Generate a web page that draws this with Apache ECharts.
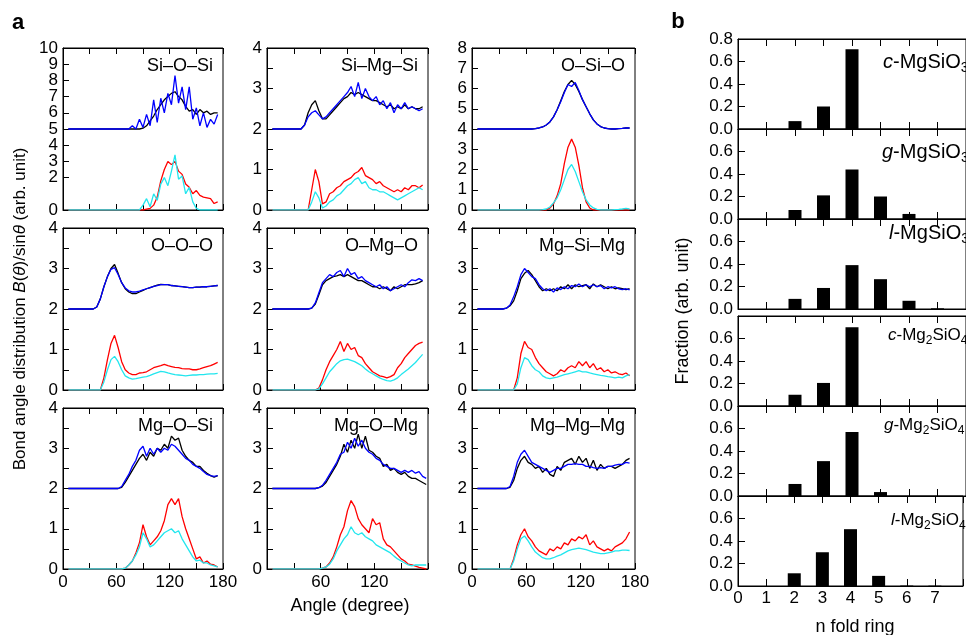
<!DOCTYPE html>
<html><head><meta charset="utf-8">
<script src="https://cdn.jsdelivr.net/npm/echarts@6/dist/echarts.min.js"></script>
<style>html,body{margin:0;padding:0;background:#fff}#c{width:966px;height:635px}</style>
</head><body><div id="c"></div>
<script>
// ---------- DATA: panel a (bond angle distributions) ----------
const angles = [6,10,14,18,22,26,30,34,38,42, 46,50,54,58,62,66,70,74,78,82, 86,90,94,98,102,106,110,114,118,122, 126,130,134,138,142,146,150,154,158,162, 166,170,174,178];
const panelTitles = ['Si–O–Si','Si–Mg–Si','O–Si–O','O–O–O','O–Mg–O','Mg–Si–Mg','Mg–O–Si','Mg–O–Mg','Mg–Mg–Mg'];
const panelYMax = [10,4,8,4,4,4,4,4,4];

const SiOSi_K = [5,5,5,5,5,5,5,5,5,5, 5,5,5,5,5,5,5,5,5,5, 5,5.05,5.2,5.5,5.8,6.2,6.5,6.8,7.0,7.2, 7.3,7.0,6.8,6.4,6.1,6.2,5.9,6.2,6.0,6.1, 5.9,6.0,6.0];
const SiOSi_B = [5,5,5,5,5,5,5,5,5,5, 5,5,5,5,5,5,5,5,5.2,5.0, 5.6,5.1,5.9,5.2,6.8,5.4,6.9,6.0,7.2,6.5, 8.3,6.6,7.6,6.2,7.6,5.6,6.3,5.2,6.0,5.1, 5.6,5.3,5.9];
const SiOSi_R = [0,0,0,0,0,0,0,0,0,0, 0,0,0,0,0,0,0,0,0,0, 0,0,0.05,0.1,0.3,0.8,1.8,2.5,3.0,2.8, 3.0,2.4,2.2,1.6,1.4,1.0,1.2,0.9,0.8,0.75, 0.7,0.4,0.5];
const SiOSi_C = [0,0,0,0,0,0,0,0,0,0, 0,0,0,0,0,0,0,0,0,0, 0,0.3,0.7,0.2,1.0,0.6,1.6,2.0,1.5,2.4, 3.4,1.9,2.1,1.0,1.4,0.5,0.1,0,0,0, 0,0,0];

const SiMgSi_K = [2,2,2,2,2,2,2,2,2,2.1, 2.4,2.6,2.7,2.45,2.25,2.25,2.35,2.45,2.55,2.65, 2.75,2.8,2.9,2.85,2.9,2.85,2.8,2.75,2.7,2.7, 2.65,2.6,2.55,2.6,2.5,2.55,2.5,2.6,2.5,2.55, 2.5,2.5,2.55];
const SiMgSi_B = [2,2,2,2,2,2,2,2,2,2.1, 2.3,2.4,2.45,2.35,2.25,2.3,2.4,2.5,2.6,2.7, 2.8,2.9,3.05,2.8,3.15,2.75,3.0,2.8,2.7,2.8, 2.6,2.7,2.5,2.65,2.4,2.6,2.5,2.65,2.5,2.55, 2.5,2.45,2.5];
const SiMgSi_R = [0,0,0,0,0,0,0,0,0,0, 0,0.5,1.0,0.7,0.15,0.2,0.4,0.45,0.55,0.6, 0.7,0.75,0.8,0.9,0.95,1.05,0.85,0.8,0.75,0.65, 0.7,0.6,0.55,0.5,0.45,0.5,0.45,0.55,0.5,0.6, 0.6,0.55,0.62];
const SiMgSi_C = [0,0,0,0,0,0,0,0,0,0, 0,0.2,0.45,0.3,0.05,0.1,0.2,0.25,0.35,0.4, 0.5,0.6,0.65,0.75,0.8,0.65,0.7,0.55,0.5,0.5, 0.45,0.45,0.4,0.35,0.3,0.25,0.3,0.35,0.4,0.45, 0.5,0.55,0.5];

const OSiO_K = [4,4,4,4,4,4,4,4,4,4, 4,4,4,4,4,4.0,4.02,4.05,4.1,4.2, 4.35,4.6,4.95,5.4,5.85,6.2,6.4,6.2,5.85,5.45, 5.1,4.75,4.45,4.25,4.12,4.05,4.02,4.0,4.0,4.02, 4.03,4.05,4.05];
const OSiO_B = [4,4,4,4,4,4,4,4,4,4, 4,4,4,4,4,4.0,4.02,4.05,4.1,4.2, 4.35,4.6,4.95,5.35,5.8,6.2,6.1,6.3,5.9,5.45, 5.1,4.75,4.45,4.25,4.12,4.05,4.02,4.0,4.0,4.02, 4.03,4.05,4.05];
const OSiO_R = [0,0,0,0,0,0,0,0,0,0, 0,0,0,0,0,0,0,0,0,0, 0.1,0.3,0.7,1.3,2.3,3.1,3.5,3.1,2.2,1.1, 0.4,0.1,0,0,0,0,0,0,0,0, 0,0,0];
const OSiO_C = [0,0,0,0,0,0,0,0,0,0, 0,0,0,0,0,0,0,0,0.02,0.05, 0.15,0.35,0.6,1.0,1.5,2.0,2.25,1.9,1.4,0.9, 0.5,0.25,0.1,0.03,0,0,0,0,0.02,0.03, 0.05,0.08,0.05];

const OOO_K = [2,2,2,2,2,2,2,2,2.05,2.25, 2.55,2.8,3.0,3.1,2.88,2.65,2.5,2.42,2.38,2.38, 2.42,2.46,2.5,2.53,2.56,2.59,2.61,2.6,2.6,2.58, 2.57,2.56,2.55,2.54,2.53,2.53,2.54,2.54,2.55,2.55, 2.56,2.57,2.58];
const OOO_B = [2,2,2,2,2,2,2,2,2.05,2.25, 2.55,2.8,2.98,3.02,2.85,2.65,2.52,2.45,2.42,2.42, 2.44,2.47,2.5,2.53,2.56,2.58,2.6,2.6,2.6,2.58, 2.57,2.56,2.55,2.54,2.53,2.53,2.54,2.54,2.55,2.55, 2.56,2.57,2.58];
const OOO_R = [0,0,0,0,0,0,0,0,0,0, 0.3,0.75,1.15,1.35,1.05,0.7,0.5,0.42,0.38,0.38, 0.42,0.43,0.45,0.5,0.55,0.58,0.6,0.63,0.6,0.58, 0.56,0.55,0.53,0.52,0.52,0.5,0.5,0.52,0.55,0.58, 0.6,0.64,0.68];
const OOO_C = [0,0,0,0,0,0,0,0,0,0, 0.2,0.5,0.75,0.83,0.7,0.5,0.35,0.3,0.27,0.28, 0.3,0.32,0.33,0.36,0.4,0.43,0.46,0.45,0.42,0.4, 0.38,0.37,0.36,0.35,0.36,0.37,0.37,0.38,0.38,0.39, 0.4,0.4,0.41];

const OMgO_K = [2,2,2,2,2,2,2,2,2,2, 2.0,2.02,2.12,2.35,2.6,2.7,2.75,2.8,2.82,2.85, 2.8,2.85,2.8,2.75,2.7,2.7,2.65,2.6,2.55,2.55, 2.5,2.55,2.5,2.45,2.55,2.5,2.55,2.6,2.6,2.6, 2.62,2.65,2.7];
const OMgO_B = [2,2,2,2,2,2,2,2,2,2, 2.0,2.02,2.15,2.4,2.65,2.75,2.85,2.8,2.9,2.95, 2.8,3.0,2.85,2.9,2.75,2.8,2.7,2.65,2.6,2.55, 2.6,2.5,2.55,2.45,2.5,2.55,2.6,2.55,2.65,2.72, 2.7,2.75,2.7];
const OMgO_R = [0,0,0,0,0,0,0,0,0,0, 0,0,0,0.05,0.25,0.5,0.7,0.85,1.0,1.2, 0.95,1.15,1.0,1.05,0.85,0.8,0.65,0.55,0.45,0.4, 0.35,0.33,0.3,0.33,0.38,0.55,0.65,0.8,0.9,1.0, 1.1,1.15,1.18];
const OMgO_C = [0,0,0,0,0,0,0,0,0,0, 0,0,0,0.03,0.15,0.3,0.45,0.55,0.65,0.72, 0.75,0.76,0.73,0.7,0.65,0.6,0.52,0.45,0.4,0.35, 0.3,0.26,0.23,0.22,0.25,0.3,0.38,0.45,0.52,0.6, 0.68,0.78,0.88];

const MgSiMg_K = [2,2,2,2,2,2,2,2,2.02,2.08, 2.2,2.45,2.75,2.88,2.95,2.85,2.7,2.55,2.45,2.5, 2.45,2.5,2.45,2.55,2.5,2.6,2.5,2.6,2.55,2.58, 2.6,2.5,2.62,2.55,2.6,2.55,2.5,2.55,2.5,2.52, 2.5,2.48,2.5];
const MgSiMg_B = [2,2,2,2,2,2,2,2,2.02,2.1, 2.3,2.55,2.85,3.0,2.9,2.8,2.75,2.6,2.5,2.45, 2.5,2.42,2.52,2.48,2.55,2.5,2.58,2.55,2.62,2.55, 2.6,2.55,2.6,2.55,2.58,2.5,2.55,2.52,2.55,2.5, 2.48,2.5,2.47];
const MgSiMg_R = [0,0,0,0,0,0,0,0,0,0, 0,0.3,0.9,1.2,1.05,1.0,0.8,0.65,0.55,0.45, 0.4,0.35,0.4,0.5,0.45,0.55,0.6,0.55,0.7,0.6, 0.7,0.55,0.65,0.5,0.55,0.45,0.5,0.42,0.45,0.4, 0.38,0.42,0.35];
const MgSiMg_C = [0,0,0,0,0,0,0,0,0,0, 0,0.15,0.55,0.8,0.75,0.6,0.5,0.45,0.35,0.3, 0.28,0.3,0.32,0.35,0.38,0.4,0.42,0.45,0.48,0.45, 0.45,0.42,0.4,0.38,0.36,0.35,0.33,0.32,0.3,0.32, 0.3,0.35,0.38];

const MgOSi_K = [2,2,2,2,2,2,2,2,2,2, 2,2,2,2.0,2.0,2.03,2.15,2.3,2.45,2.6, 2.75,2.85,2.7,2.9,2.8,3.0,2.95,3.1,3.0,3.3, 3.2,3.25,2.95,2.8,2.7,2.65,2.55,2.55,2.45,2.38, 2.32,2.28,2.32];
const MgOSi_B = [2,2,2,2,2,2,2,2,2,2, 2,2,2,2,2,2.05,2.2,2.35,2.55,2.7, 2.95,3.05,2.8,3.0,2.85,3.0,2.9,3.0,2.95,3.1, 3.05,2.95,2.85,2.75,2.7,2.6,2.55,2.5,2.42,2.35, 2.32,2.3,2.32];
const MgOSi_R = [0,0,0,0,0,0,0,0,0,0, 0,0,0,0,0,0,0.02,0.1,0.2,0.4, 0.65,1.1,0.8,0.6,0.7,0.8,0.95,1.2,1.6,1.75, 1.6,1.75,1.3,1.0,0.75,0.5,0.25,0.3,0.15,0.2, 0.12,0.1,0.05];
const MgOSi_C = [0,0,0,0,0,0,0,0,0,0, 0,0,0,0,0,0,0.02,0.1,0.2,0.35, 0.55,0.9,0.75,0.55,0.6,0.7,0.8,0.9,0.95,1.0, 0.9,0.95,0.75,0.6,0.45,0.3,0.2,0.22,0.15,0.15, 0.1,0.08,0.05];

const MgOMg_K = [2,2,2,2,2,2,2,2,2,2, 2,2,2.0,2.02,2.06,2.15,2.3,2.45,2.6,2.8, 3.1,2.9,3.2,3.0,3.35,3.0,3.3,2.95,2.9,2.8, 2.75,2.55,2.6,2.45,2.5,2.4,2.35,2.4,2.3,2.25, 2.25,2.2,2.15,2.1];
const MgOMg_B = [2,2,2,2,2,2,2,2,2,2, 2,2,2.0,2.02,2.08,2.2,2.35,2.5,2.65,2.85, 2.9,3.15,3.0,3.25,3.05,3.2,3.0,2.9,2.85,2.75, 2.7,2.6,2.55,2.5,2.5,2.45,2.4,2.45,2.4,2.45, 2.38,2.42,2.3,2.25];
const MgOMg_R = [0,0,0,0,0,0,0,0,0,0, 0,0,0,0,0.02,0.05,0.15,0.3,0.55,0.85, 1.05,1.45,1.7,1.55,1.25,1.1,1.0,0.9,1.25,1.1, 1.15,0.75,0.6,0.55,0.45,0.35,0.25,0.2,0.12,0.1, 0.07,0.04,0.02,0.0];
const MgOMg_C = [0,0,0,0,0,0,0,0,0,0, 0,0,0,0,0.02,0.05,0.12,0.25,0.45,0.6, 0.75,0.85,1.05,0.9,0.85,0.9,0.8,0.75,0.7,0.6, 0.55,0.5,0.45,0.4,0.32,0.25,0.2,0.15,0.1,0.08, 0.1,0.1,0.1,0.1];

const MgMgMg_K = [2,2,2,2,2,2,2,2,2.0,2.03, 2.2,2.5,2.7,2.8,2.65,2.6,2.5,2.55,2.4,2.5, 2.35,2.3,2.55,2.45,2.65,2.7,2.75,2.6,2.8,2.65, 2.75,2.5,2.7,2.45,2.6,2.5,2.55,2.55,2.5,2.55, 2.6,2.7,2.75];
const MgMgMg_B = [2,2,2,2,2,2,2,2,2.0,2.05, 2.3,2.65,2.85,2.95,2.8,2.65,2.6,2.55,2.5,2.45, 2.4,2.45,2.5,2.5,2.55,2.6,2.6,2.62,2.6,2.6, 2.55,2.55,2.52,2.5,2.52,2.5,2.55,2.55,2.58,2.6, 2.6,2.65,2.63];
const MgMgMg_R = [0,0,0,0,0,0,0,0,0,0, 0.25,0.6,0.85,1.0,0.8,0.7,0.55,0.45,0.4,0.35, 0.5,0.45,0.55,0.5,0.65,0.6,0.75,0.7,0.8,0.75, 0.85,0.6,0.7,0.55,0.5,0.45,0.5,0.45,0.55,0.6, 0.65,0.75,0.92];
const MgMgMg_C = [0,0,0,0,0,0,0,0,0,0, 0.2,0.5,0.75,0.82,0.7,0.55,0.42,0.35,0.28,0.25, 0.25,0.28,0.32,0.35,0.4,0.45,0.48,0.5,0.52,0.5, 0.48,0.45,0.42,0.4,0.38,0.38,0.4,0.42,0.45,0.45, 0.47,0.47,0.46];

const xTickLabels = [0,60,120,180];

// ---------- DATA: panel b (ring statistics) ----------
const ringN = [0,1,2,3,4,5,6,7];
const c_MgSiO3  = [0,0,0.07,0.20,0.71,0,0,0];
const g_MgSiO3  = [0,0,0.08,0.21,0.44,0.20,0.045,0];
const l_MgSiO3  = [0,0,0.09,0.187,0.39,0.265,0.073,0.006];
const c_Mg2SiO4 = [0,0,0.10,0.205,0.70,0,0,0];
const g_Mg2SiO4 = [0,0,0.107,0.31,0.57,0.035,0,0];
const l_Mg2SiO4 = [0,0,0.113,0.30,0.505,0.09,0.004,0.003];

// ---------- CHART ----------
const FONT = '"Liberation Sans", Arial, Helvetica, sans-serif';
const chart = echarts.init(document.getElementById('c'), null, {renderer:'canvas'});
const mctx = document.createElement('canvas').getContext('2d');

const panels = [
  [SiOSi_K,SiOSi_B,SiOSi_R,SiOSi_C],[SiMgSi_K,SiMgSi_B,SiMgSi_R,SiMgSi_C],[OSiO_K,OSiO_B,OSiO_R,OSiO_C],
  [OOO_K,OOO_B,OOO_R,OOO_C],[OMgO_K,OMgO_B,OMgO_R,OMgO_C],[MgSiMg_K,MgSiMg_B,MgSiMg_R,MgSiMg_C],
  [MgOSi_K,MgOSi_B,MgOSi_R,MgOSi_C],[MgOMg_K,MgOMg_B,MgOMg_R,MgOMg_C],[MgMgMg_K,MgMgMg_B,MgMgMg_R,MgMgMg_C]
];
const lineColors = ['#000000','#0000ff','#ff0000','#22e6ee'];
const colLeft=[63,267,472], colW=[160,161,163], rowTop=[48,228,408], rowH=[162,162,161];
const grid=[], xAxis=[], yAxis=[], series=[], elements=[], extraY=[];
const axLine = {show:true, onZero:false, lineStyle:{color:'#000', width:1}};
const tickStyle = {color:'#000', width:1};

function pieces(list, size, x0, y0, opts) {
  opts = opts || {};
  let x = 0; const out = [];
  list.forEach(p => {
    const fs = p.sub ? Math.round(size*0.68) : size;
    const font = (p.it?'italic ':'') + (p.bold?'bold ':'') + fs + 'px ' + FONT;
    mctx.font = font;
    const w = mctx.measureText(p.t).width;
    out.push({type:'text', x:x, y:p.sub ? size*0.32 : 0, silent:true,
      style:{text:p.t, font:font, fill:'#000', textAlign:'left', textVerticalAlign:'middle', align:'left', verticalAlign:'middle'}});
    x += w;
  });
  const shift = opts.center ? -x/2 : (opts.right ? -x : 0);
  out.forEach(o => o.x += shift);
  return {type:'group', x:x0, y:y0, rotation: opts.rot || 0, silent:true, children: out};
}
function plainText(t, x, y, size, align, bold) {
  const font = (bold?'bold ':'') + size + 'px ' + FONT;
  return {type:'text', x:x, y:y, silent:true, style:{text:t, font:font, fill:'#000', textAlign:align, textVerticalAlign:'middle', align:align, verticalAlign:'middle'}};
}

panels.forEach((p, i) => {
  const col = i % 3, row = Math.floor(i / 3);
  const ymax = panelYMax[i];
  const dense = ymax > 8;   // labels too close together: max label drawn by a twin axis
  grid.push({left:colLeft[col], top:rowTop[row], width:colW[col], height:rowH[row], show:true, borderColor:'#000', borderWidth:1, backgroundColor:'transparent'});
  const lastRow = row === 2;
  xAxis.push({gridIndex:i, type:'value', min:0, max:180, interval:30, position:'bottom',
    axisLine:axLine, axisTick:{inside:true, length:6, lineStyle:tickStyle}, splitLine:{show:false},
    axisLabel:{show:lastRow, hideOverlap:false, color:'#000', fontSize:17, fontFamily:FONT, margin:5,
      formatter: v => (xTickLabels.indexOf(v) >= 0 && (col !== 1 || (v > 0 && v < 180))) ? String(v) : ''}});
  xAxis.push({gridIndex:i, type:'value', min:0, max:180, interval:30, position:'top',
    axisLine:axLine, axisTick:{inside:true, length:6, lineStyle:tickStyle}, splitLine:{show:false}, axisLabel:{show:false}});
  yAxis.push({gridIndex:i, type:'value', min:0, max:ymax, interval: ymax === 4 ? 0.5 : 1, position:'left',
    axisLine:axLine, axisTick:{inside:true, length:6, lineStyle:tickStyle}, splitLine:{show:false},
    axisLabel:{hideOverlap:false, showMinLabel:true, showMaxLabel: !dense, color:'#000', fontSize:17, lineHeight:9,
      fontFamily:FONT, margin:5,
      formatter: v => Number.isInteger(v) ? String(v) : ''}});
  if (dense) {
    extraY.push({gridIndex:i, type:'value', min:0, max:ymax, interval:1, position:'left', offset:0,
      axisLine:{show:false}, axisTick:{show:false}, splitLine:{show:false},
      axisLabel:{hideOverlap:false, showMinLabel:false, showMaxLabel:true, color:'#000', fontSize:17, fontFamily:FONT, margin:5,
        formatter: v => v === ymax ? String(v) : ''}});
  }
  p.forEach((arr, s) => {
    const data = [];
    angles.forEach((a, j) => { if (arr[j] !== undefined) data.push([a, arr[j]]); });
    series.push({type:'line', xAxisIndex:2*i, yAxisIndex:i, data:data, showSymbol:false, symbol:'none',
      lineStyle:{color:lineColors[s], width:1.3}, silent:true, z:2+s});
  });
  elements.push(plainText(panelTitles[i], colLeft[col] + colW[col] - 10, rowTop[row] + 18, 18, 'right'));
});

// panel b
const bData = [c_MgSiO3, g_MgSiO3, l_MgSiO3, c_Mg2SiO4, g_Mg2SiO4, l_Mg2SiO4];
const bTops = [39,129,219,316,406,496];
const bLabels = [
  [{t:'c',it:1},{t:'-MgSiO'},{t:'3',sub:1}],
  [{t:'g',it:1},{t:'-MgSiO'},{t:'3',sub:1}],
  [{t:'l',it:1},{t:'-MgSiO'},{t:'3',sub:1}],
  [{t:'c',it:1},{t:'-Mg'},{t:'2',sub:1},{t:'SiO'},{t:'4',sub:1}],
  [{t:'g',it:1},{t:'-Mg'},{t:'2',sub:1},{t:'SiO'},{t:'4',sub:1}],
  [{t:'l',it:1},{t:'-Mg'},{t:'2',sub:1},{t:'SiO'},{t:'4',sub:1}]
];
const bLabelX = [883,882,889,888,884,891];
const bLabelDY = [23,23,14,19,19,24];
const bLabelSize = [20,20,20,17,17,17];
bData.forEach((d, k) => {
  const gi = 9 + k;
  grid.push({left:738, top:bTops[k], width:248, height:90, show:true, borderColor:'#000', borderWidth:1, backgroundColor:'transparent'});
  const last = k === 5;
  xAxis.push({gridIndex:gi, type:'value', min:0, max:8, interval:1, position:'bottom',
    axisLine:axLine, axisTick:{inside:true, length:7, lineStyle:tickStyle}, splitLine:{show:false},
    axisLabel:{show:last, hideOverlap:false, color:'#000', fontSize:17, fontFamily:FONT, margin:4, formatter: v => ringN.indexOf(v) >= 0 ? String(v) : ''}});
  xAxis.push({gridIndex:gi, type:'value', min:0, max:8, interval:1, position:'top',
    axisLine:axLine, axisTick:{inside:true, length:7, lineStyle:tickStyle}, splitLine:{show:false}, axisLabel:{show:false}});
  yAxis.push({gridIndex:gi, type:'value', min:0, max:0.8, interval:0.2, position:'left',
    axisLine:axLine, axisTick:{inside:true, length:7, lineStyle:tickStyle}, splitLine:{show:false},
    axisLabel:{hideOverlap:false, color:'#000', fontSize:17, fontFamily:FONT, margin:5,
      formatter: v => (v > 0.79 && k !== 0) ? '' : v.toFixed(1)}});
  series.push({type:'bar', xAxisIndex:2*gi, yAxisIndex:gi, barWidth:13,
    data: ringN.map((n, j) => [n, d[j]]), itemStyle:{color:'#000'}, silent:true});
  elements.push(pieces(bLabels[k], bLabelSize[k], bLabelX[k], bTops[k] + bLabelDY[k]));
});
extraY.forEach(a => yAxis.push(a));

// global labels
elements.push(plainText('a', 18, 23, 22, 'center', true));
elements.push(plainText('b', 678, 22, 22, 'center', true));
elements.push(plainText('Angle (degree)', 350, 606, 18, 'center'));
elements.push(plainText('n fold ring', 855, 627, 18, 'center'));
elements.push(pieces([{t:'Bond angle distribution '},{t:'B',it:1},{t:'('},{t:'θ',it:1},{t:')/sin'},{t:'θ',it:1},{t:' (arb. unit)'}], 17, 20, 309, {center:true, rot:Math.PI/2}));
elements.push(pieces([{t:'Fraction (arb. unit)'}], 18, 683, 311, {center:true, rot:Math.PI/2}));

chart.setOption({
  animation:false,
  backgroundColor:'#fff',
  grid:grid, xAxis:xAxis, yAxis:yAxis, series:series,
  graphic:{elements:elements}
});
</script></body></html>
